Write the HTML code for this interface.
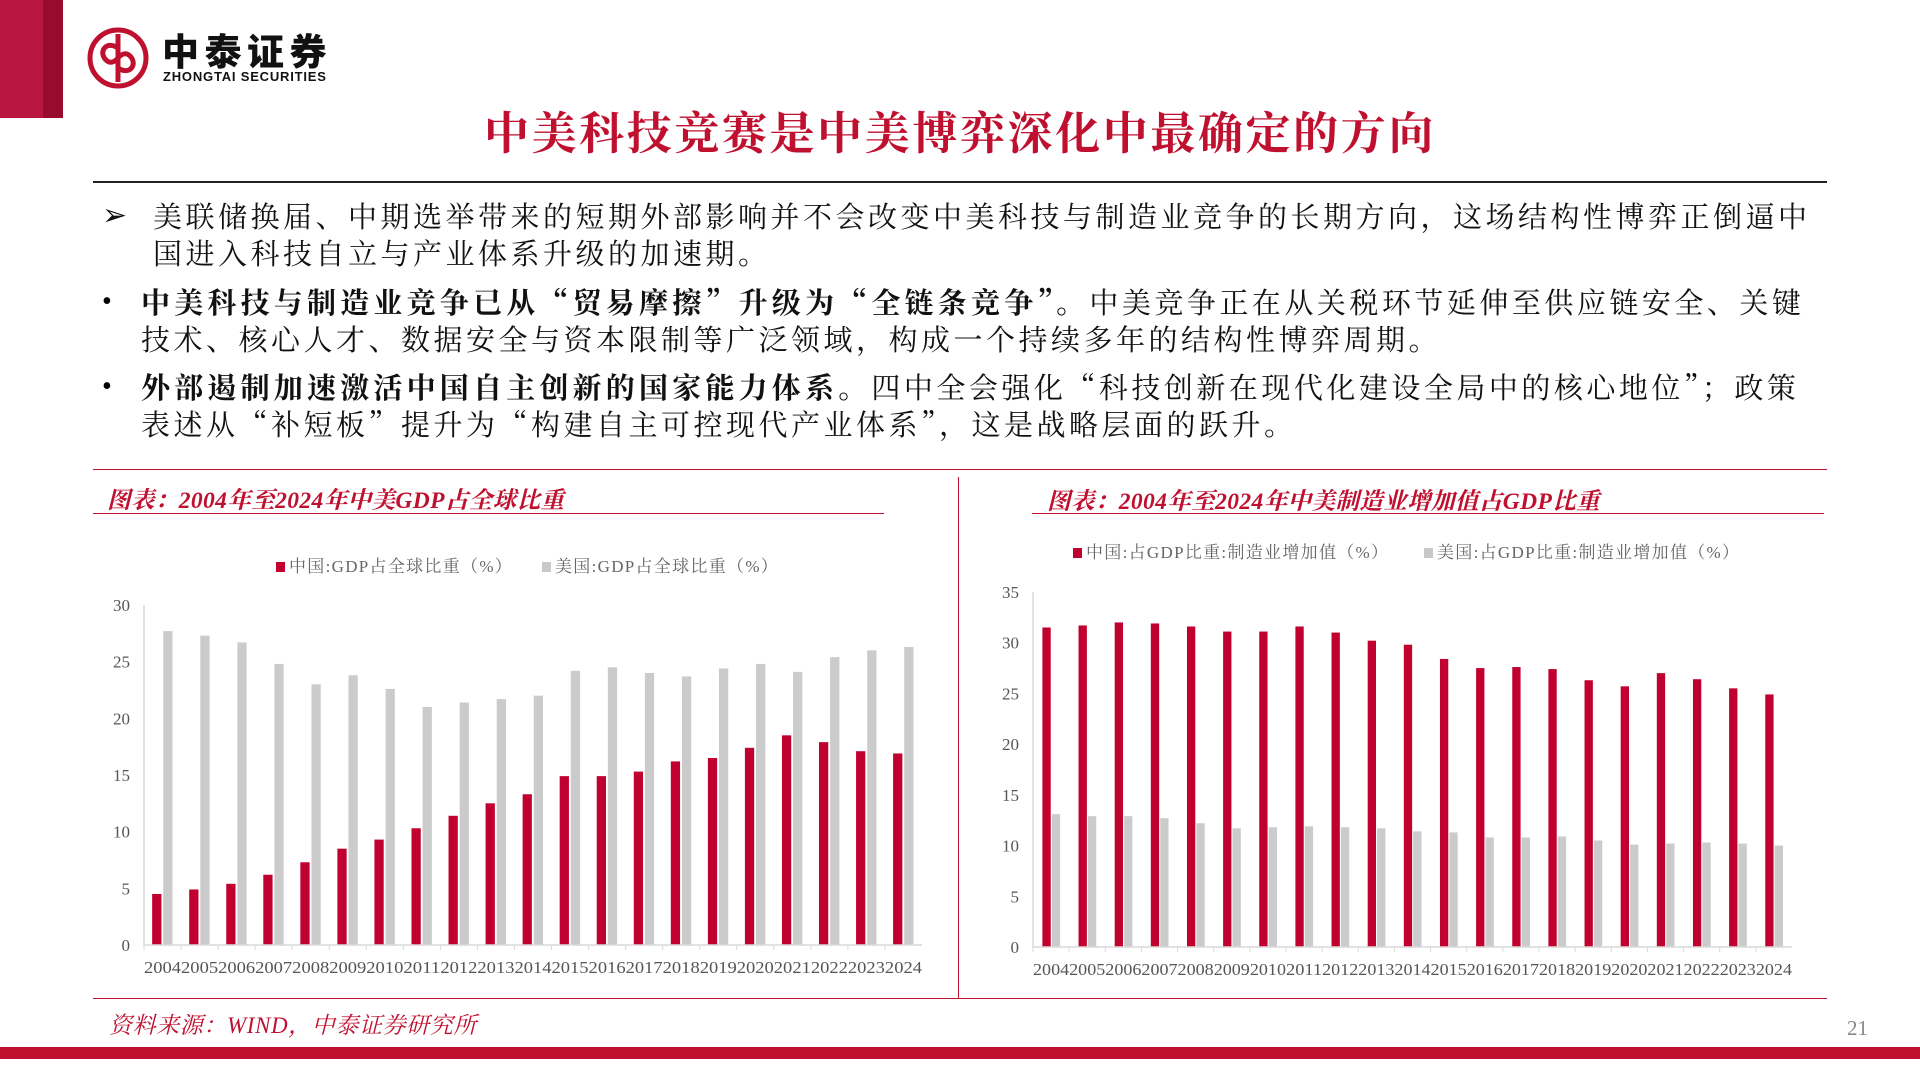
<!DOCTYPE html>
<html><head><meta charset="utf-8">
<style>
html,body{margin:0;padding:0;background:#fff;}
body{width:1920px;height:1080px;position:relative;overflow:hidden;font-family:"Liberation Serif","Noto Serif CJK SC",serif;}
.abs{position:absolute;}
.bl{font-family:"Noto Serif CJK SC","Liberation Serif",serif;font-size:29px;letter-spacing:3.5px;color:#111;white-space:nowrap;line-height:37px;}
.bl b{letter-spacing:4.2px;}
.ct{font-family:"Liberation Serif","Noto Serif CJK SC",serif;font-style:italic;font-weight:bold;color:#c0102f;font-size:23.5px;letter-spacing:0.4px;white-space:nowrap;}
</style></head>
<body>
<div class="abs" style="left:0;top:0;width:43px;height:118px;background:#b9173f"></div>
<div class="abs" style="left:43px;top:0;width:20px;height:118px;background:#990b2c"></div>
<svg class="abs" style="left:86px;top:26px" width="64" height="64" viewBox="0 0 64 64">
<circle cx="32" cy="32" r="28" fill="none" stroke="#c0102f" stroke-width="5"/>
<path d="M32 8 V56 M32 22 C20 14 12 26 20 34 C26 40 32 32 32 32 C32 32 38 24 44 30 C52 38 44 50 32 42" fill="none" stroke="#c0102f" stroke-width="5"/>
</svg>
<div class="abs" style="left:162px;top:28px;font-family:'Noto Sans CJK SC',sans-serif;font-weight:900;font-size:37px;letter-spacing:5.5px;line-height:42px;color:#111">中泰证券</div>
<div class="abs" style="left:163px;top:70px;font-family:'Liberation Sans',sans-serif;font-weight:bold;font-size:13px;line-height:14px;color:#111;letter-spacing:0.8px">ZHONGTAI SECURITIES</div>

<div class="abs" style="left:0;width:1920px;top:106px;text-align:center;font-family:'Liberation Serif','Noto Serif CJK SC',serif;font-weight:bold;font-size:45px;letter-spacing:2.6px;color:#c0102f;line-height:56px">中美科技竞赛是中美博弈深化中最确定的方向</div>
<div class="abs" style="left:93px;top:181px;width:1734px;height:2px;background:#222"></div>

<div class="abs" style="left:102px;top:197px;font-size:30px;line-height:37px;color:#111;font-family:'DejaVu Sans',sans-serif">➢</div>
<div class="abs bl" style="left:153px;top:197px">美联储换届、中期选举带来的短期外部影响并不会改变中美科技与制造业竞争的长期方向，这场结构性博弈正倒逼中<br>国进入科技自立与产业体系升级的加速期。</div>
<div class="abs" style="left:102px;top:283px;font-size:28px;line-height:37px">•</div>
<div class="abs bl" style="left:141px;top:283px"><b>中美科技与制造业竞争已从“贸易摩擦”升级为“全链条竞争”。</b>中美竞争正在从关税环节延伸至供应链安全、关键<br>技术、核心人才、数据安全与资本限制等广泛领域，构成一个持续多年的结构性博弈周期。</div>
<div class="abs" style="left:102px;top:368px;font-size:28px;line-height:37px">•</div>
<div class="abs bl" style="left:141px;top:368px"><b>外部遏制加速激活中国自主创新的国家能力体系。</b>四中全会强化“科技创新在现代化建设全局中的核心地位”；政策<br>表述从“补短板”提升为“构建自主可控现代产业体系”，这是战略层面的跃升。</div>

<div class="abs" style="left:93px;top:469px;width:1734px;height:1px;background:#c0102f"></div>
<div class="abs" style="left:958px;top:477px;width:1px;height:521px;background:#c0102f"></div>
<div class="abs" style="left:93px;top:998px;width:1734px;height:1px;background:#c0102f"></div>

<div class="abs ct" style="left:107px;top:481px">图表：2004年至2024年中美GDP占全球比重</div>
<div class="abs" style="left:93px;top:513px;width:791px;height:1px;background:#c0102f"></div>
<div class="abs ct" style="left:1047px;top:482px">图表：2004年至2024年中美制造业增加值占GDP比重</div>
<div class="abs" style="left:1032px;top:513px;width:792px;height:1px;background:#c0102f"></div>

<svg id="chart1" class="abs" style="left:93px;top:540px" width="860" height="450"></svg>
<svg id="chart2" class="abs" style="left:980px;top:530px" width="830" height="460"></svg>

<div class="abs" style="left:109px;top:1007px;font-style:italic;color:#c0102f;font-size:23px;letter-spacing:0.6px;font-family:'Liberation Serif','Noto Serif CJK SC',serif">资料来源：WIND，中泰证券研究所</div>
<div class="abs" style="left:1847px;top:1016px;color:#888;font-size:21px">21</div>
<div class="abs" style="left:0;top:1047px;width:1920px;height:12px;background:#c0102f"></div>

<script>
const years = ["2004","2005","2006","2007","2008","2009","2010","2011","2012","2013","2014","2015","2016","2017","2018","2019","2020","2021","2022","2023","2024"];
const chinaGdpShare = [4.5,4.9,5.4,6.2,7.3,8.5,9.3,10.3,11.4,12.5,13.3,14.9,14.9,15.3,16.2,16.5,17.4,18.5,17.9,17.1,16.9];
const usGdpShare = [27.7,27.3,26.7,24.8,23.0,23.8,22.6,21.0,21.4,21.7,22.0,24.2,24.5,24.0,23.7,24.4,24.8,24.1,25.4,26.0,26.3];
const gdpTicks = [0,5,10,15,20,25,30];
const chinaMfgShare = [31.5,31.7,32.0,31.9,31.6,31.1,31.1,31.6,31.0,30.2,29.8,28.4,27.5,27.6,27.4,26.3,25.7,27.0,26.4,25.5,24.9];
const usMfgShare = [13.1,12.9,12.9,12.7,12.2,11.7,11.8,11.9,11.8,11.7,11.4,11.3,10.8,10.8,10.9,10.5,10.1,10.2,10.3,10.2,10.0];
const mfgTicks = [0,5,10,15,20,25,30,35];
const legend1 = ["中国:GDP占全球比重（%）","美国:GDP占全球比重（%）"];
const legend2 = ["中国:占GDP比重:制造业增加值（%）","美国:占GDP比重:制造业增加值（%）"];

const NS="http://www.w3.org/2000/svg";
function mk(svg,tag,attrs,text){const e=document.createElementNS(NS,tag);for(const k in attrs)e.setAttribute(k,attrs[k]);if(text!==undefined)e.textContent=text;svg.appendChild(e);return e;}

function draw(id,o){
  const svg=document.getElementById(id);
  const y=v=>o.y0-(v/o.max)*(o.y0-o.yTop);
  const cw=(o.xR-o.xL)/years.length;
  const x=i=>o.xL+i*cw;
  const sw1=mk(svg,"rect",{x:o.lg[0],y:o.lgY-5,width:9,height:10,fill:"#c0002f"});
  
  
  const lt1=mk(svg,"text",{x:o.lg[0]+13,y:o.lgY+5,"font-size":17,"letter-spacing":1.3,fill:"#666","font-family":"Liberation Serif,Noto Serif CJK SC,serif"},o.legend[0]);
  
  
  const sw2=mk(svg,"rect",{x:o.lg[1],y:o.lgY-5,width:9,height:10,fill:"#c8c8c8"});
  
  
  const lt2=mk(svg,"text",{x:o.lg[1]+13,y:o.lgY+5,"font-size":17,"letter-spacing":1.3,fill:"#666","font-family":"Liberation Serif,Noto Serif CJK SC,serif"},o.legend[1]);
  
  
  const ya=mk(svg,"line",{x1:o.xL,y1:o.yTop,x2:o.xL,y2:o.y0,stroke:"#d9d9d9","stroke-width":1.5});
  
  
  o.ticks.forEach(t=>{
    const tl=mk(svg,"text",{x:o.xL-14,y:y(t)+6,"text-anchor":"end","font-size":17,fill:"#555","font-family":"Liberation Serif,serif"},t);
    
    
  });
  o.a.forEach((v,i)=>{
    const b=mk(svg,"rect",{x:x(i)+cw*o.off[0],y:y(v),width:cw*o.bw,height:o.y0-y(v),fill:"#c0002f"});
    
    
    const g=mk(svg,"rect",{x:x(i)+cw*o.off[1],y:y(o.b[i]),width:cw*o.bw,height:o.y0-y(o.b[i]),fill:"#cbcbcb"});
    
    
    const tk=mk(svg,"line",{x1:x(i),y1:o.y0,x2:x(i),y2:o.y0+5,stroke:"#d9d9d9"});
    
    
    const lb=mk(svg,"text",{x:x(i)+cw/2,y:o.y0+28,"text-anchor":"middle","font-size":17,fill:"#555","font-family":"Liberation Serif,serif",textLength:cw,lengthAdjust:"spacingAndGlyphs"},years[i]);
    
    
  });
  const xa=mk(svg,"line",{x1:o.xL,y1:o.y0,x2:o.xR,y2:o.y0,stroke:"#d9d9d9","stroke-width":1.5});
  
  
}
draw("chart1",{xL:51,xR:829,yTop:65,y0:405,max:30,ticks:gdpTicks,a:chinaGdpShare,b:usGdpShare,off:[0.22,0.52],bw:0.25,legend:legend1,lg:[183,449],lgY:27});
draw("chart2",{xL:53,xR:812,yTop:62,y0:417,max:35,ticks:mfgTicks,a:chinaMfgShare,b:usMfgShare,off:[0.26,0.52],bw:0.23,legend:legend2,lg:[93,444],lgY:23});
</script>
</body></html>
